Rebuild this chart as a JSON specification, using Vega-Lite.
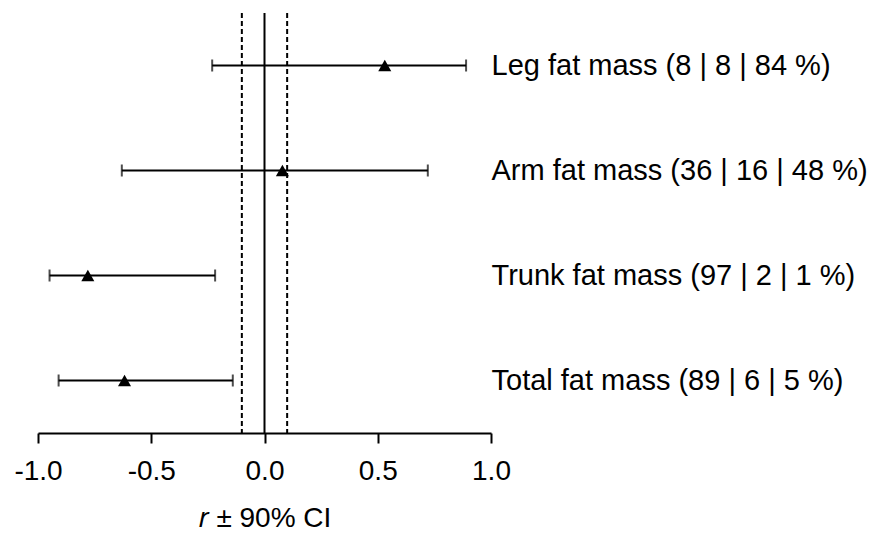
{
  "$schema": "https://vega.github.io/schema/vega-lite/v6.json",
  "autosize": "none",
  "width": 453,
  "height": 420,
  "padding": {"left": 38, "top": 13, "right": 383, "bottom": 100},
  "background": "white",
  "config": {
    "view": {"stroke": null},
    "font": "Liberation Sans",
    "axis": {"grid": false}
  },
  "data": {
    "values": [
      {"label": "Leg fat mass (8 | 8 | 84 %)", "r": 0.531, "lo": -0.231, "hi": 0.89},
      {"label": "Arm fat mass (36 | 16 | 48 %)", "r": 0.079, "lo": -0.63, "hi": 0.721},
      {"label": "Trunk fat mass (97 | 2 | 1 %)", "r": -0.78, "lo": -0.949, "hi": -0.218},
      {"label": "Total fat mass (89 | 6 | 5 %)", "r": -0.618, "lo": -0.909, "hi": -0.14}
    ]
  },
  "encoding": {
    "y": {
      "field": "label",
      "type": "nominal",
      "sort": null,
      "scale": {"paddingInner": 0, "paddingOuter": 0},
      "axis": {
        "orient": "right",
        "title": null,
        "domain": false,
        "ticks": false,
        "labelPadding": 0,
        "labelFontSize": 29,
        "labelColor": "black",
        "labelFont": "Liberation Sans",
        "labelLimit": 0
      }
    }
  },
  "layer": [
    {
      "data": {"values": [{"v": 0}]},
      "mark": {"type": "rule", "color": "black", "strokeWidth": 2},
      "encoding": {"x": {"field": "v", "type": "quantitative"}, "y": null}
    },
    {
      "data": {"values": [{"v": -0.1}, {"v": 0.1}]},
      "mark": {"type": "rule", "color": "black", "strokeWidth": 2, "strokeDash": [5, 3]},
      "encoding": {"x": {"field": "v", "type": "quantitative"}, "y": null}
    },
    {
      "mark": {"type": "rule", "color": "black", "strokeWidth": 2},
      "encoding": {
        "x": {
          "field": "lo",
          "type": "quantitative",
          "scale": {"domain": [-1, 1], "nice": false, "zero": false},
          "axis": {
            "values": [-1, -0.5, 0, 0.5, 1],
            "labelExpr": "datum.value < 0 ? '-' + format(-datum.value, '.1f') : format(datum.value, '.1f')",
            "labelFlush": false,
            "title": "𝑟 ± 90% CI",
            "titleFontSize": 28,
            "titleFontWeight": "normal",
            "titleColor": "black",
            "titleFont": "Liberation Sans",
            "titlePadding": 19,
            "labelFontSize": 28,
            "labelColor": "black",
            "labelFont": "Liberation Sans",
            "labelPadding": 14,
            "domainColor": "black",
            "domainWidth": 2,
            "tickColor": "black",
            "tickWidth": 2,
            "tickSize": 10
          }
        },
        "x2": {"field": "hi"}
      }
    },
    {
      "mark": {"type": "tick", "color": "black", "thickness": 2, "size": 12, "orient": "vertical"},
      "encoding": {"x": {"field": "lo", "type": "quantitative"}}
    },
    {
      "mark": {"type": "tick", "color": "black", "thickness": 2, "size": 12, "orient": "vertical"},
      "encoding": {"x": {"field": "hi", "type": "quantitative"}}
    },
    {
      "mark": {"type": "point", "shape": "triangle-up", "filled": true, "color": "black", "opacity": 1, "size": 170},
      "encoding": {"x": {"field": "r", "type": "quantitative"}}
    }
  ]
}
